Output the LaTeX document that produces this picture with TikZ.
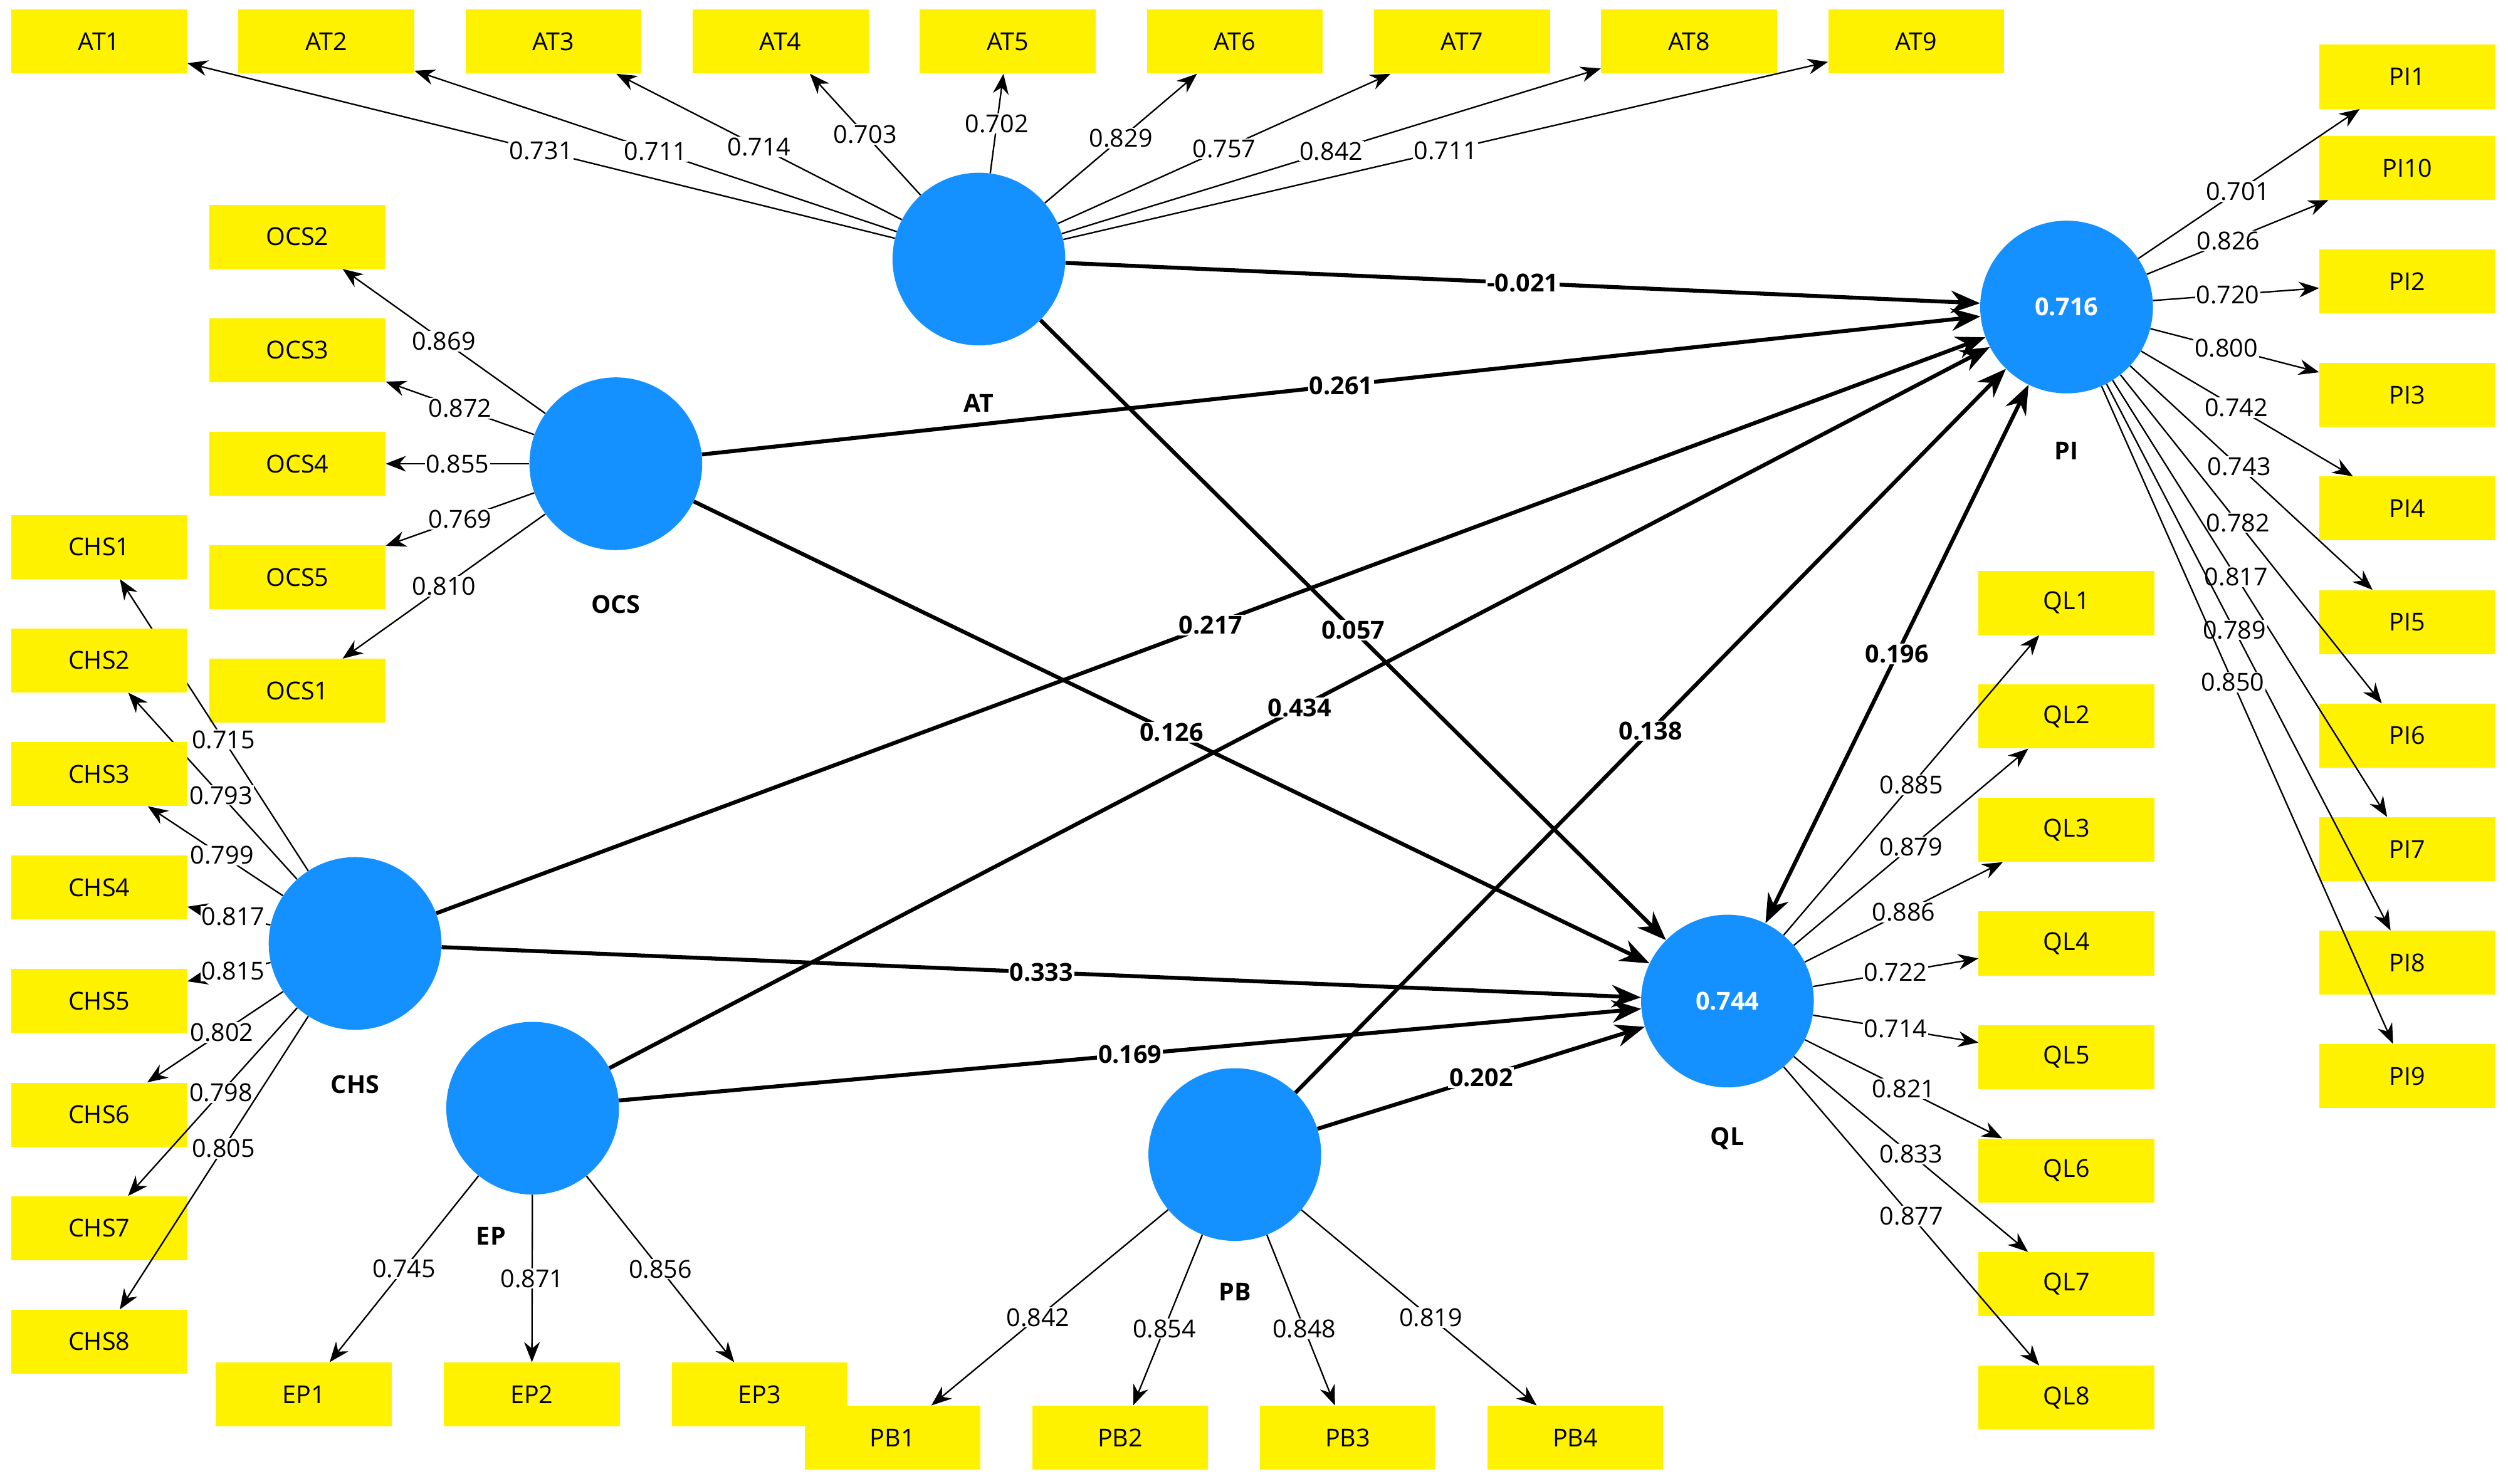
\documentclass[tikz,border=0pt]{standalone}
\usepackage{fontspec}
\setmainfont{Open Sans}
\usetikzlibrary{arrows.meta}
\begin{document}
\begin{tikzpicture}[x=0.05cm,y=-0.05cm,
 ind/.style={fill=yellow,draw=none,minimum width=5.5cm,minimum height=2cm,font=\fontsize{22}{26}\selectfont},
 lat/.style={circle,fill={rgb,255:red,20;green,145;blue,255},minimum size=5.4cm,text=white,font=\bfseries\fontsize{22}{26}\selectfont},
 lab/.style={font=\bfseries\fontsize{22}{26}\selectfont},
 ld/.style={draw,line width=1.3pt,-{Stealth[length=18pt,width=14pt]}},
 lv/.style={fill=white,inner sep=1pt,font=\fontsize{22}{26}\selectfont},
 sp/.style={draw,line width=3.5pt,-{Stealth[length=26pt,width=20pt]}},
 sv/.style={fill=white,inner sep=1pt,font=\bfseries\fontsize{22}{26}\selectfont}]
\useasboundingbox[fill=white] (0,0) rectangle (1568,928);
% latent
\node[lat] (AT) at (612,162) {};
\node[lat] (OCS) at (385,290) {};
\node[lat] (CHS) at (222,590) {};
\node[lat] (EP) at (333,693) {};
\node[lat] (PB) at (772,722) {};
\node[lat] (QL) at (1080,626) {0.744};
\node[lat] (PI) at (1292,192) {0.716};
\node[lab] at (612,252) {AT};
\node[lab] at (385,378) {OCS};
\node[lab] at (222,678) {CHS};
\node[lab] at (307,773) {EP};
\node[lab] at (772,808) {PB};
\node[lab] at (1080,712) {QL};
\node[lab] at (1292,282) {PI};
% AT indicators
\foreach \i/\v [count=\k from 0] in {1/0.731,2/0.711,3/0.714,4/0.703,5/0.702,6/0.829,7/0.757,8/0.842,9/0.711}{
 \node[ind] (AT\i) at (62+142*\k,26) {AT\i};
 \path[ld] (AT) -- (AT\i) node[lv,pos=0.5] {\v};}
% OCS
\foreach \n/\v/\y in {2/0.869/148,3/0.872/219,4/0.855/290,5/0.769/361,1/0.810/432}{
 \node[ind] (OCS\n) at (186,\y) {OCS\n};
 \path[ld] (OCS) -- (OCS\n) node[lv,pos=0.5] {\v};}
% CHS
\foreach \i/\v [count=\k from 0] in {1/0.715,2/0.793,3/0.799,4/0.817,5/0.815,6/0.802,7/0.798,8/0.805}{
 \node[ind] (CHS\i) at (62,342+71*\k) {CHS\i};
 \path[ld] (CHS) -- (CHS\i) node[lv,pos=0.45] {\v};}
% EP
\foreach \i/\v [count=\k from 0] in {1/0.745,2/0.871,3/0.856}{
 \node[ind] (EP\i) at (190+142.5*\k,872) {EP\i};
 \path[ld] (EP) -- (EP\i) node[lv,pos=0.5] {\v};}
% PB
\foreach \i/\v [count=\k from 0] in {1/0.842,2/0.854,3/0.848,4/0.819}{
 \node[ind] (PB\i) at (558+142.3*\k,899) {PB\i};
 \path[ld] (PB) -- (PB\i) node[lv,pos=0.55] {\v};}
% QL
\foreach \i/\v [count=\k from 0] in {1/0.885,2/0.879,3/0.886,4/0.722,5/0.714,6/0.821,7/0.833,8/0.877}{
 \node[ind] (QL\i) at (1292,377+71*\k) {QL\i};}
\foreach \i/\v in {1/0.885,2/0.879,3/0.886,4/0.722,5/0.714,6/0.821,7/0.833,8/0.877}{
 \path[ld] (QL) -- (QL\i) node[lv,pos=0.5] {\v};}
% PI
\node[ind] (PI1) at (1505,48) {PI1};
\node[ind] (PI10) at (1505,105) {PI10};
\foreach \i/\y in {2/176,3/247,4/318,5/389,6/460,7/531,8/602,9/673}{
 \node[ind] (PI\i) at (1505,\y) {PI\i};}
\foreach \i/\v in {1/0.701,10/0.826,2/0.720,3/0.800,4/0.742,5/0.743,6/0.782,7/0.817,8/0.789,9/0.850}{
 \path[ld] (PI) -- (PI\i) node[lv,pos=0.45] {\v};}
% structural
\path[sp] (AT) -- (PI) node[sv,pos=0.5] {-0.021};
\path[sp] (OCS) -- (PI) node[sv,pos=0.5] {0.261};
\path[sp] (CHS) -- (PI) node[sv,pos=0.5] {0.217};
\path[sp] (EP) -- (PI) node[sv,pos=0.5] {0.434};
\path[sp] (PB) -- (PI) node[sv,pos=0.5] {0.138};
\path[sp] (AT) -- (QL) node[sv,pos=0.5] {0.057};
\path[sp] (OCS) -- (QL) node[sv,pos=0.5] {0.126};
\path[sp] (CHS) -- (QL) node[sv,pos=0.5] {0.333};
\path[sp] (EP) -- (QL) node[sv,pos=0.5] {0.169};
\path[sp] (PB) -- (QL) node[sv,pos=0.5] {0.202};
\path[sp,{Stealth[length=26pt,width=20pt]}-{Stealth[length=26pt,width=20pt]}] (PI) -- (QL) node[sv,pos=0.5] {0.196};
\end{tikzpicture}
\end{document}
